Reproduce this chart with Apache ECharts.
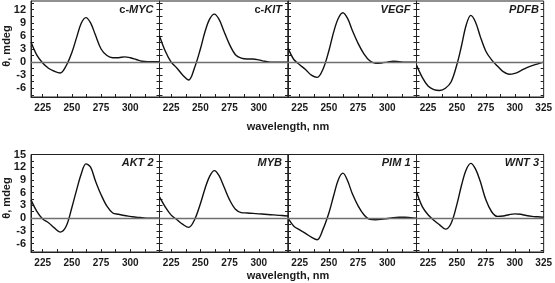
<!DOCTYPE html>
<html>
<head>
<meta charset="utf-8">
<script src="https://cdn.jsdelivr.net/npm/echarts@6/dist/echarts.min.js"></script>
<style>
  html, body { margin: 0; padding: 0; background: #fff; }
  #cd { width: 555px; height: 283px; }
</style>
</head>
<body>
<div id="cd"></div>
<script>
  // wavelength grid (nm), shared by all spectra - denser round the main band
  const wavelength = [215, 220, 225, 230, 235, 240, 245, 250, 254, 258, 262, 266, 270, 275, 280, 285, 290, 295, 300, 305, 310, 315, 320, 325]

  // CD spectra, theta in mdeg
  const cMYC = [4.6, 1.6, -0.2, -1.4, -2.1, -2.5, -0.9, 2.2, 5.6, 8.9, 10.2, 9.0, 6.3, 3.0, 1.5, 1.0, 1.0, 1.2, 1.0, 0.6, 0.2, 0.1, 0.1, 0.1]
  const cKIT = [6.0, 2.5, 0.0, -1.4, -3.0, -4.1, -1.3, 3.0, 7.0, 9.9, 11.0, 9.8, 7.2, 4.0, 1.7, 0.9, 0.7, 0.7, 0.5, 0.2, 0.0, 0.0, 0.0, 0.0]
  const VEGF = [3.2, 0.6, -0.6, -1.7, -3.0, -3.5, -1.6, 2.6, 6.8, 10.0, 11.3, 10.0, 7.3, 4.3, 1.9, 0.3, -0.3, -0.2, 0.0, 0.2, 0.1, 0.0, 0.0, 0.0]
  const PDFB = [-0.7, -3.5, -5.5, -6.3, -6.5, -6.0, -4.5, -0.5, 3.8, 8.5, 10.7, 9.2, 6.0, 2.5, 0.5, -0.9, -2.2, -2.8, -2.6, -2.0, -1.3, -0.8, -0.4, 0.0]
  const AKT2 = [4.3, 1.6, -0.2, -1.1, -2.3, -3.3, -2.0, 2.5, 6.6, 10.4, 12.8, 12.0, 8.9, 5.5, 2.8, 1.2, 0.9, 0.6, 0.4, 0.2, 0.1, 0.0, 0.0, 0.0]
  const MYB = [5.0, 2.6, 0.7, -0.4, -1.5, -2.2, -0.4, 3.4, 7.0, 9.9, 11.2, 10.0, 7.5, 4.3, 2.1, 1.3, 1.2, 1.1, 1.0, 0.9, 0.8, 0.7, 0.6, 0.5]
  const PIM1 = [0.0, -1.9, -2.8, -3.6, -4.5, -5.1, -2.6, 1.2, 5.2, 9.0, 10.6, 8.8, 5.8, 2.9, 0.8, -0.3, -0.4, -0.3, -0.1, 0.1, 0.2, 0.2, 0.1, 0.0]
  const WNT3 = [6.2, 2.7, 0.8, -0.5, -1.6, -2.6, -1.2, 3.3, 7.8, 11.4, 12.9, 11.6, 8.8, 4.3, 1.5, 0.4, 0.5, 0.8, 1.0, 0.9, 0.6, 0.4, 0.3, 0.2]

  const names = ['c-MYC', 'c-KIT', 'VEGF', 'PDFB', 'AKT 2', 'MYB', 'PIM 1', 'WNT 3']
  const spectra = [cMYC, cKIT, VEGF, PDFB, AKT2, MYB, PIM1, WNT3]

  // axis ticks / labels
  const xTickLabels = [225, 250, 275, 300]
  const xTickLabelsLast = [225, 250, 275, 300, 325]
  const xTicks = [225, 237.5, 250, 262.5, 275, 287.5, 300, 312.5]
  const yLabelsTop = [-6, -3, 0, 3, 6, 9, 12]
  const yLabelsBottom = [-6, -3, 0, 3, 6, 9, 12, 15]
  const yTicksTop = [-7.5, -6, -4.5, -3, -1.5, 0, 1.5, 3, 4.5, 6, 7.5, 9, 10.5, 12, 13.5]
  const yTicksBottom = yTicksTop.concat([15])

  const chart = echarts.init(document.getElementById('cd'))

  const colLeft = [31, 159.5, 288, 416.5]
  const panelW = 128.5
  const rows = [
    { top: 1, height: 96, min: -8, max: 14, labels: yLabelsTop, ticks: yTicksTop },
    { top: 154.5, height: 97.5, min: -8, max: 15, labels: yLabelsBottom, ticks: yTicksBottom }
  ]
  const txt = '#1a1a1a'
  const lblFont = { color: txt, fontFamily: 'Liberation Sans', fontWeight: 'bold', fontSize: 10 }

  const grid = [], xAxis = [], yAxis = [], series = [], graphic = []
  for (let i = 0; i < 8; i++) {
    const r = rows[Math.floor(i / 4)]
    const c = i % 4
    grid.push({
      left: colLeft[c], top: r.top, width: panelW, height: r.height,
      show: true, borderColor: '#222', borderWidth: 1
    })
    xAxis.push({
      gridIndex: i, type: 'value', min: 215, max: 325,
      axisLine: { show: true, onZero: false, lineStyle: { color: '#222' } },
      axisTick: { show: true, inside: true, length: 3, customValues: xTicks, lineStyle: { color: '#222' } },
      axisLabel: Object.assign({ margin: 6, customValues: c === 3 ? xTickLabelsLast : xTickLabels }, lblFont),
      splitLine: { show: false }
    })
    yAxis.push({
      gridIndex: i, type: 'value', min: r.min, max: r.max,
      axisLine: { show: true, lineStyle: { color: '#222' } },
      axisTick: { show: true, inside: true, length: 3, customValues: r.ticks, lineStyle: { color: '#222' } },
      axisLabel: Object.assign({ show: c === 0, margin: 5, customValues: r.labels }, lblFont, { fontSize: 11 }),
      splitLine: { show: false }
    })
    yAxis.push({
      gridIndex: i, type: 'value', position: 'right', min: r.min, max: r.max,
      axisLine: { show: false },
      axisTick: { show: true, inside: true, length: 3, customValues: r.ticks, lineStyle: { color: '#222' } },
      axisLabel: { show: false },
      splitLine: { show: false }
    })
    series.push({
      type: 'line', xAxisIndex: i, yAxisIndex: i * 2,
      data: wavelength.map((w, k) => [w, spectra[i][k]]),
      smooth: 0.35, showSymbol: false,
      lineStyle: { color: '#111', width: 1.4 },
      markLine: {
        silent: true, symbol: 'none', label: { show: false },
        lineStyle: { color: '#6f6f6f', width: 1.3, type: 'solid' },
        data: [{ yAxis: 0 }]
      }
    })
    const nm = names[i]
    const hasPrefix = nm.startsWith('c-')
    graphic.push({
      type: 'text', right: 555 - (colLeft[c] + panelW) + 6, top: r.top + 3,
      style: {
        text: hasPrefix ? '{a|c-}{b|' + nm.slice(2) + '}' : '{b|' + nm + '}',
        rich: {
          a: { fontFamily: 'Liberation Sans', fontWeight: 'bold', fontSize: 11, fill: txt },
          b: { fontFamily: 'Liberation Sans', fontWeight: 'bold', fontStyle: 'italic', fontSize: 11, fill: txt }
        }
      }
    })
  }

  // axis titles
  const titleStyle = { fontFamily: 'Liberation Sans', fontWeight: 'bold', fontSize: 11, fill: txt }
  graphic.push(
    { type: 'text', x: 288, y: 127, style: Object.assign({ text: 'wavelength, nm', align: 'center', verticalAlign: 'middle' }, titleStyle) },
    { type: 'text', x: 288, y: 276, style: Object.assign({ text: 'wavelength, nm', align: 'center', verticalAlign: 'middle' }, titleStyle) },
    { type: 'text', x: 7, y: 46, rotation: Math.PI / 2, style: Object.assign({ text: 'θ, mdeg', align: 'center', verticalAlign: 'middle' }, titleStyle) },
    { type: 'text', x: 7, y: 198, rotation: Math.PI / 2, style: Object.assign({ text: 'θ, mdeg', align: 'center', verticalAlign: 'middle' }, titleStyle) }
  )

  chart.setOption({
    animation: false,
    grid: grid,
    xAxis: xAxis,
    yAxis: yAxis,
    series: series,
    graphic: graphic
  })
</script>
</body>
</html>
